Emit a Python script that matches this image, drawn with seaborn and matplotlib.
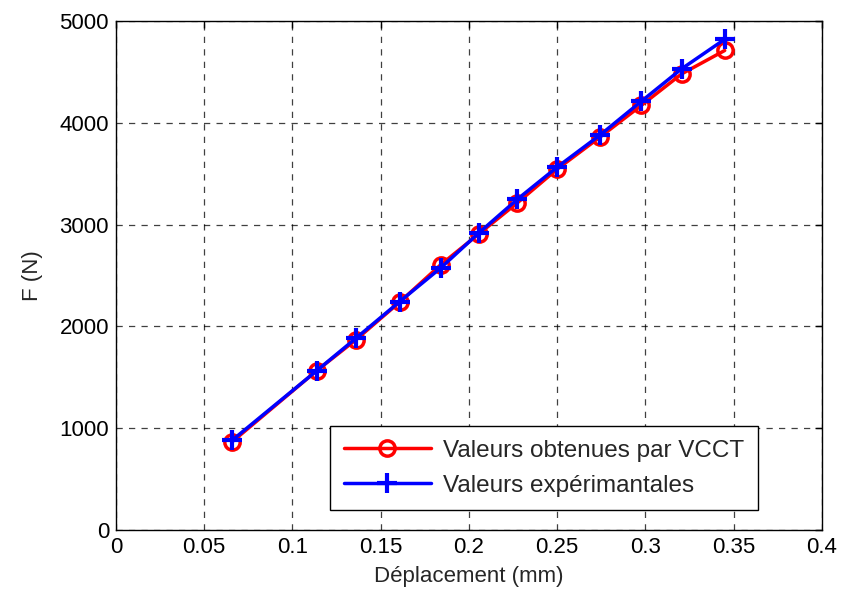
import matplotlib
matplotlib.use("Agg")
import matplotlib.pyplot as plt
import seaborn as sns
import pandas as pd
from matplotlib.ticker import FormatStrFormatter

# Données
deplacement = [0.066, 0.1137, 0.136, 0.1608, 0.184, 0.2057, 0.2275, 0.250, 0.2743, 0.2976, 0.3205, 0.3449]
f_vcct = [870, 1565, 1870, 2240, 2606, 2910, 3215, 3545, 3860, 4170, 4480, 4710]
f_exp = [885, 1565, 1885, 2245, 2575, 2920, 3250, 3565, 3880, 4210, 4530, 4820]

xticks = [0, 0.05, 0.1, 0.15, 0.2, 0.25, 0.3, 0.35, 0.4]
yticks = [0, 1000, 2000, 3000, 4000, 5000]

sns.set_style("white")
plt.rcParams["font.family"] = ["Liberation Sans", "DejaVu Sans"]

df_vcct = pd.DataFrame({"x": deplacement, "F": f_vcct})
df_exp = pd.DataFrame({"x": deplacement, "F": f_exp})

fig = plt.figure(figsize=(8.43, 5.99), dpi=100)
ax = fig.add_axes([0.1376, 0.115, 0.8374, 0.85])

sns.lineplot(data=df_vcct, x="x", y="F", ax=ax, color="#ff0000", linewidth=2.5,
             marker="o", markersize=11, markerfacecolor="none", markeredgecolor="#ff0000",
             markeredgewidth=2.5, sort=False, label="Valeurs obtenues par VCCT")
sns.lineplot(data=df_exp, x="x", y="F", ax=ax, color="#0000ff", linewidth=2.5,
             marker="+", markersize=14, markeredgecolor="#0000ff", markeredgewidth=3,
             sort=False, label="Valeurs expérimantales")

ax.set_xlim(0, 0.4)
ax.set_ylim(0, 5000)
ax.set_xticks(xticks)
ax.set_yticks(yticks)
ax.xaxis.set_major_formatter(FormatStrFormatter("%g"))
ax.grid(True, color="black", linestyle=(0, (5, 5)), linewidth=0.9, alpha=0.75)
ax.tick_params(direction="in", top=True, right=True, length=5, width=1, labelsize=16,
               colors="black", pad=5)
for s in ax.spines.values():
    s.set_color("black")
    s.set_linewidth(1)

ax.set_xlabel("Déplacement (mm)", fontsize=16, labelpad=6)
ax.set_ylabel("F (N)", fontsize=16, labelpad=12)

leg = ax.legend(loc="lower right", bbox_to_anchor=(0.909, 0.039), borderaxespad=0,
                fontsize=17.5, frameon=True, fancybox=False, edgecolor="black",
                framealpha=1, handlelength=3.6, borderpad=0.55, labelspacing=0.55,
                handletextpad=0.5)
leg.get_frame().set_linewidth(1)

fig.savefig("out.png", dpi=100)
